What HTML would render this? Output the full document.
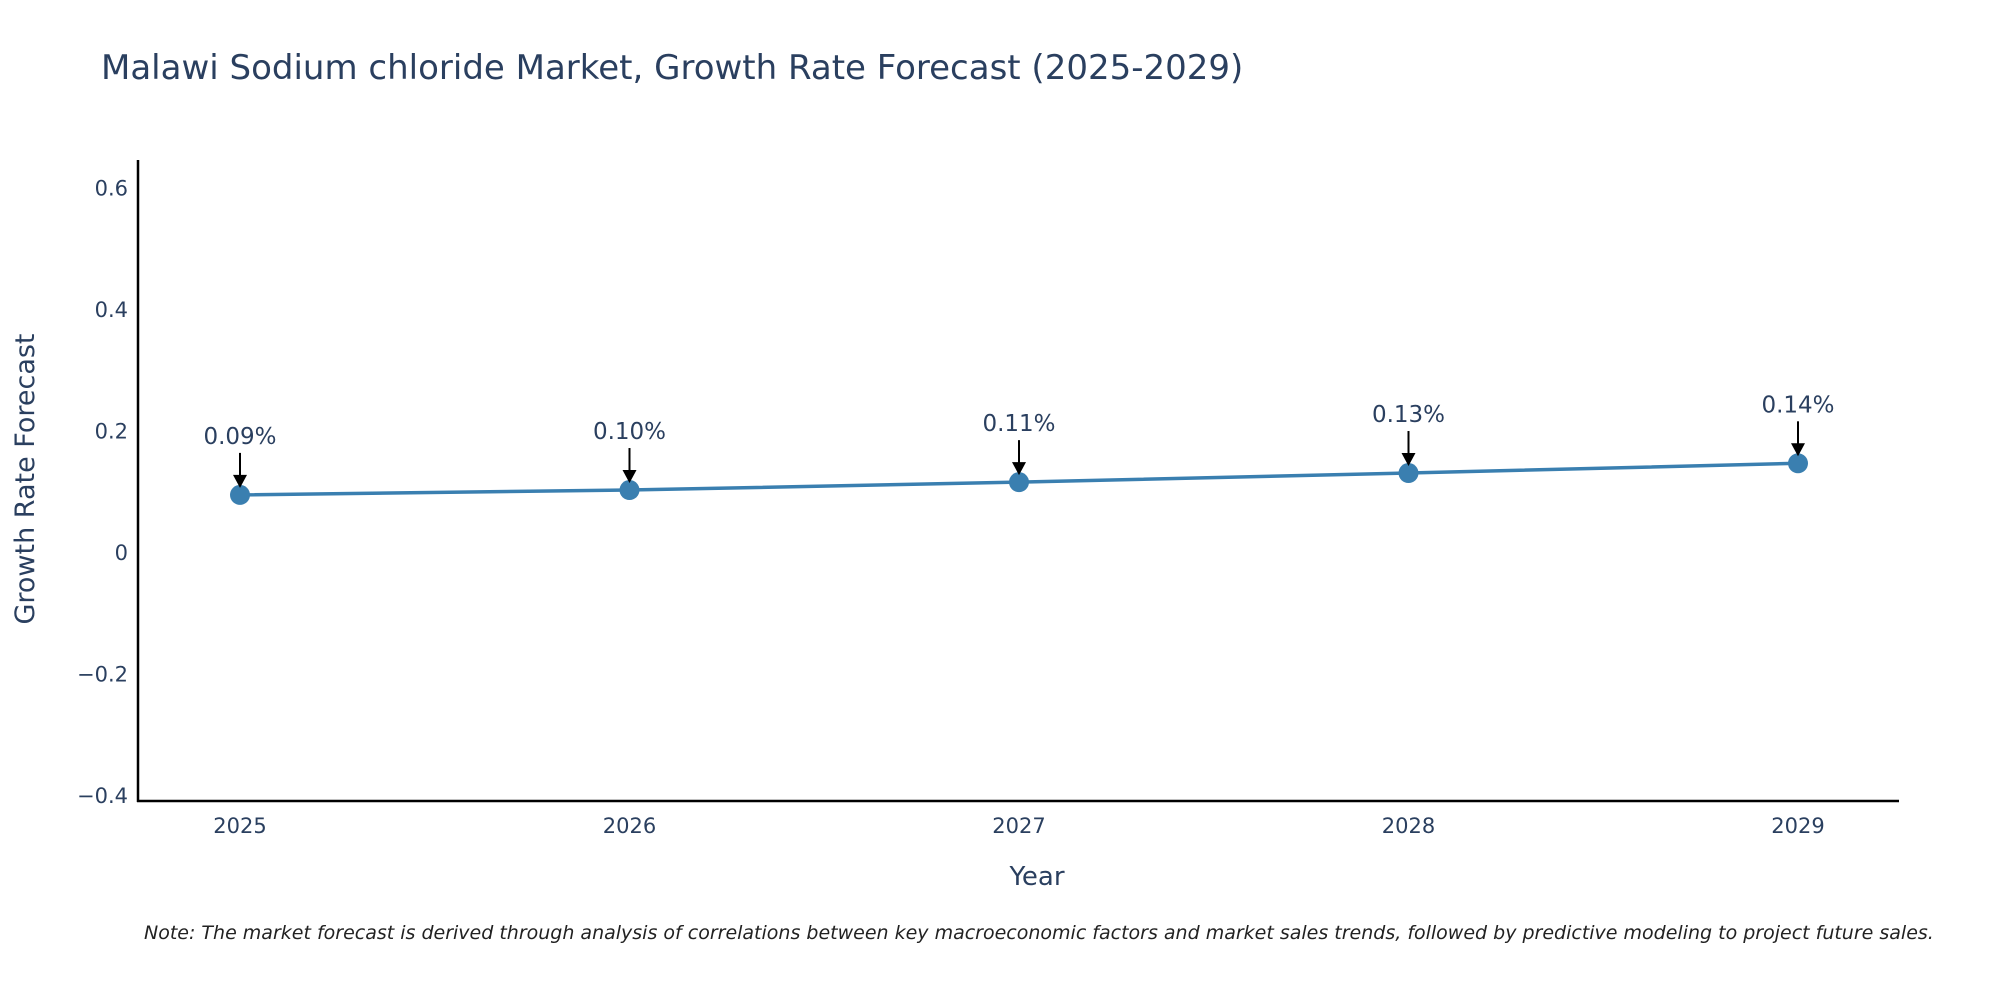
<!DOCTYPE html>
<html><head><meta charset="utf-8"><style>
html,body{margin:0;padding:0;background:#fff;}
svg{display:block;font-family:"DejaVu Sans","Liberation Sans",sans-serif;}
</style></head><body>
<svg id="chart" width="2000" height="1000" viewBox="0 0 2000 1000">
<text x="101" y="79" font-size="34" fill="#2a3f5f">Malawi Sodium chloride Market, Growth Rate Forecast (2025-2029)</text>
<g id="yticks"></g>
<g id="xticks"></g>
<line x1="138" y1="160" x2="138" y2="802" stroke="#000" stroke-width="2.5"/>
<line x1="137" y1="801" x2="1899" y2="801" stroke="#000" stroke-width="2.5"/>
<g id="series"></g>
<g id="annots"></g>
<text x="1037" y="885" font-size="26" fill="#2a3f5f" text-anchor="middle">Year</text>
<text transform="translate(34,479) rotate(-90)" font-size="27" fill="#2a3f5f" text-anchor="middle">Growth Rate Forecast</text>
<text x="144" y="939" font-size="19" font-style="italic" fill="#222">Note: The market forecast is derived through analysis of correlations between key macroeconomic factors and market sales trends, followed by predictive modeling to project future sales.</text>
</svg>
<script>
const years = [2025, 2026, 2027, 2028, 2029];
const values = [0.094, 0.102, 0.115, 0.130, 0.146];
const labels = ["0.09%", "0.10%", "0.11%", "0.13%", "0.14%"];
const yTicks = [-0.4, -0.2, 0, 0.2, 0.4, 0.6];
const yTickLabels = ["\u22120.4", "\u22120.2", "0", "0.2", "0.4", "0.6"];
const NS = "http://www.w3.org/2000/svg";
const x = v => 240 + (v - 2025) * 389.5;
const y = v => 552 - v * 607.5;
function mk(tag, attrs, parent){const e=document.createElementNS(NS,tag);for(const k in attrs)e.setAttribute(k,attrs[k]);parent.appendChild(e);return e;}
const yg=document.getElementById('yticks');
yTicks.forEach((t,i)=>{const e=mk('text',{x:128,y:y(t)+8,'font-size':21,fill:'#2a3f5f','text-anchor':'end'},yg);


e.textContent=yTickLabels[i];});
const xg=document.getElementById('xticks');
years.forEach(t=>{const e=mk('text',{x:x(t),y:833,'font-size':21,fill:'#2a3f5f','text-anchor':'middle'},xg);


e.textContent=t;});
const sg=document.getElementById('series');
const pl=mk('polyline',{points:years.map((t,i)=>x(t)+','+y(values[i])).join(' '),fill:'none',stroke:'#3a7fb0','stroke-width':3.5},sg);


years.forEach((t,i)=>{const c=mk('circle',{cx:x(t),cy:y(values[i]),r:10,fill:'#3a7fb0'},sg);

});
const ag=document.getElementById('annots');
years.forEach((t,i)=>{const px=x(t),py=y(values[i]);
const l=mk('line',{x1:px,y1:py-42,x2:px,y2:py-16,stroke:'#000','stroke-width':2},ag);


const p=mk('polygon',{points:`${px-7},${py-20} ${px+7},${py-20} ${px},${py-7}`,fill:'#000'},ag);


const tx=mk('text',{x:px,y:py-51,'font-size':23,fill:'#2a3f5f','text-anchor':'middle'},ag);


tx.textContent=labels[i];});
</script>
</body></html>
